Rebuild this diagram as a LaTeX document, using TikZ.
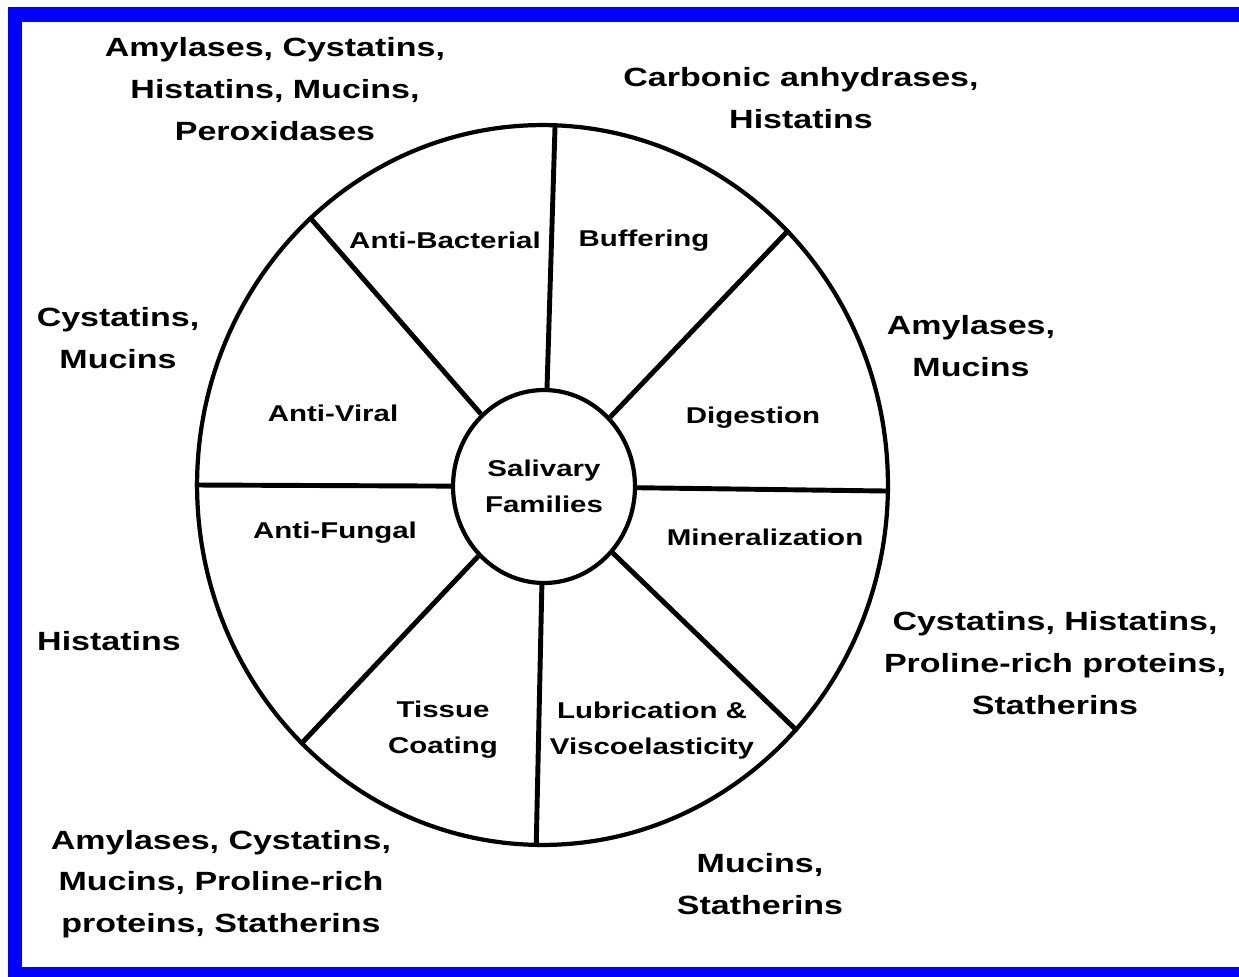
\documentclass[tikz,border=0pt]{standalone}
\usepackage{fontspec}
\newfontfamily\labelfont{Liberation Sans}[FakeStretch=1.29]
\usetikzlibrary{shapes.geometric}
\tikzstyle{wheel}=[ellipse,draw,line width=2.4pt,inner sep=0pt]
\tikzstyle{spoke}=[draw,line width=2.8pt]
\tikzstyle{sector}=[align=center,font=\labelfont\bfseries\fontsize{13}{20.4}\selectfont]
\tikzstyle{family}=[align=center,font=\labelfont\bfseries\fontsize{15}{23.8}\selectfont]
\tikzstyle{frame}=[draw=blue,line width=8.5pt]

\begin{document}
\begin{tikzpicture}[x=0.02cm,y=-0.02cm]
  \useasboundingbox (0,0) rectangle (1239,976);
  \clip (0,0) rectangle (1239,976);
  \draw[frame] (15,14.5) rectangle (1260,974.5);

  % wheel and hub
  \node[wheel,minimum width=13.82cm,minimum height=14.4cm] (rim) at (542.5,485) {};
  \node[wheel,sector,minimum width=3.64cm,minimum height=3.86cm] (hub) at (544,486.5) {Salivary\\Families};
  \foreach \a in {88,46,359,316,269,227,180,131}
    \draw[spoke] (hub) -- (rim.\a);

  % functions
  \node[sector] (bact) at (445,240) {Anti-Bacterial};
  \node[sector] (buff) at (644,241) {Buffering};
  \node[sector] (viral) at (333,413) {Anti-Viral};
  \node[sector] (dig) at (753,418) {Digestion};
  \node[sector] (fungal) at (335,533) {Anti-Fungal};
  \node[sector] (mineral) at (765,537) {Mineralization};
  \node[sector] (tissue) at (443,730) {Tissue\\Coating};
  \node[sector] (lube) at (652,731) {Lubrication \&\\Viscoelasticity};

  % protein families
  \node[family] (fbact) at (275,89) {Amylases, Cystatins,\\Histatins, Mucins,\\Peroxidases};
  \node[family] (fbuff) at (801,98) {Carbonic anhydrases,\\Histatins};
  \node[family] (fviral) at (118,338) {Cystatins,\\Mucins};
  \node[family] (fdig) at (971,346) {Amylases,\\Mucins};
  \node[family] (ffungal) at (109,641) {Histatins};
  \node[family] (fmineral) at (1055,663) {Cystatins, Histatins,\\Proline-rich proteins,\\Statherins};
  \node[family] (ftissue) at (221,884) {Amylases, Cystatins,\\Mucins, Proline-rich\\proteins, Statherins};
  \node[family] (flube) at (760,884) {Mucins,\\Statherins};
\end{tikzpicture}
\end{document}
